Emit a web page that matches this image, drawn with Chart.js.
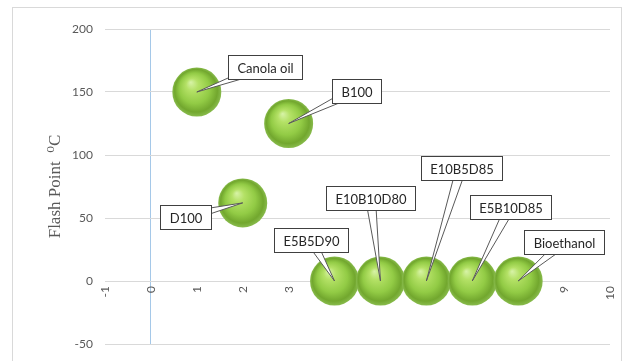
<!DOCTYPE html>
<html>
<head>
<meta charset="utf-8">
<script src="https://cdn.jsdelivr.net/npm/chart.js@4"></script>
<style>
    html, body { margin: 0; padding: 0; background: #fff; }
    #wrap { width: 625px; height: 361px; }
</style>
</head>
<body>
<div id="wrap"><canvas id="flashChart" width="625" height="361"></canvas></div>
<script>
// Fuel blends and their flash points
const fuelNames = ['Canola oil', 'B100', 'D100', 'E5B5D90', 'E10B10D80', 'E10B5D85', 'E5B10D85', 'Bioethanol'];
const fuelIndex = [1, 3, 2, 4, 5, 6, 7, 8];
const flashPoints = [150, 125, 62, 0, 0, 0, 0, 0];

// Y axis ticks
const yMin = -50;
const yMax = 200;
const yStep = 50;

// Callout box placement relative to each bubble (px)
const calloutOffsets = [
    [68, -25], [68, -33], [-57, 14], [-24, -41],
    [-10, -83], [35, -113], [38, -74], [46, -39]
];

const BUBBLE_R = 24.5;
const labelFont = '13px Lato, "Open Sans", sans-serif';

// Shaded sphere fill for each bubble
function sphereFill(ctx) {
    const chart = ctx.chart;
    const raw = ctx.raw;
    if (!raw || !chart.scales.x || !chart.scales.y) return '#8cc63f';
    const x = chart.scales.x.getPixelForValue(raw.x);
    const y = chart.scales.y.getPixelForValue(raw.y);
    if (!isFinite(x) || !isFinite(y)) return '#8cc63f';
    const r = BUBBLE_R;
    const g = chart.ctx.createRadialGradient(x - r * 0.25, y - r * 0.4, 0, x, y, r);
    g.addColorStop(0, '#d8f3a8');
    g.addColorStop(0.25, '#b4e166');
    g.addColorStop(0.62, '#92cb45');
    g.addColorStop(0.87, '#72a72e');
    g.addColorStop(1, '#88bb4c');
    return g;
}

// White page with thin light grey frame
const frame = {
    id: 'frame',
    beforeDraw(chart) {
        const c = chart.ctx;
        c.save();
        c.fillStyle = '#fff';
        c.fillRect(0, 0, chart.width, chart.height);
        c.strokeStyle = '#d9d9d9';
        c.lineWidth = 1;
        c.strokeRect(12.5, 7.5, 609, chart.height + 10);
        c.restore();
    }
};

// Boxed callouts with a wedge pointing at each bubble
const callouts = {
    id: 'callouts',
    afterDraw(chart) {
        const c = chart.ctx;
        const meta = chart.getDatasetMeta(0);
        c.save();
        c.font = labelFont;
        c.lineWidth = 1;
        meta.data.forEach((pt, i) => {
            const [dx, dy] = calloutOffsets[i];
            const bx = pt.x + dx;
            const by = pt.y + dy;
            const text = fuelNames[i];
            const w = Math.round(c.measureText(text).width + 18);
            const h = 24;
            const left = Math.round(bx - w / 2) + 0.5;
            const top = Math.round(by - h / 2) + 0.5;

            // wedge
            const ang = Math.atan2(pt.y - by, pt.x - bx);
            const px = Math.cos(ang + Math.PI / 2) * 5;
            const py = Math.sin(ang + Math.PI / 2) * 5;
            c.beginPath();
            c.moveTo(bx + px, by + py);
            c.lineTo(pt.x, pt.y);
            c.lineTo(bx - px, by - py);
            c.closePath();
            c.fillStyle = '#fff';
            c.fill();
            c.strokeStyle = '#595959';
            c.stroke();

            // box
            c.fillStyle = '#fff';
            c.fillRect(left, top, w, h);
            c.strokeStyle = '#404040';
            c.strokeRect(left, top, w, h);

            c.fillStyle = '#262626';
            c.textAlign = 'center';
            c.textBaseline = 'middle';
            c.fillText(text, left + w / 2, top + h / 2 + 1);
        });
        c.restore();
    }
};

const points = fuelIndex.map((x, i) => ({ x: x, y: flashPoints[i] }));

new Chart(document.getElementById('flashChart'), {
    type: 'bubble',
    data: {
        datasets: [{
            label: 'Flash Point',
            data: points,
            radius: BUBBLE_R,
            hoverRadius: 0,
            borderWidth: 0,
            backgroundColor: sphereFill,
            hoverBackgroundColor: sphereFill
        }]
    },
    options: {
        responsive: false,
        animation: false,
        events: [],
        layout: { autoPadding: false, padding: { left: 0, top: 29, right: 15, bottom: 17 } },
        plugins: {
            legend: { display: false },
            tooltip: { enabled: false }
        },
        scales: {
            x: {
                type: 'linear',
                position: { y: 0 },
                min: -1,
                max: 10,
                z: 1,
                ticks: {
                    stepSize: 1,
                    minRotation: 90,
                    maxRotation: 90,
                    padding: 5,
                    color: '#595959',
                    font: { family: 'Lato, "Open Sans", sans-serif', size: 12 }
                },
                grid: {
                    color: c => (c.tick && c.tick.value === 0 ? '#a5c8e8' : 'rgba(0,0,0,0)'),
                    drawTicks: false
                },
                border: { display: false },
                afterFit(scale) {
                    // axis sits inside the plot, so it should not eat layout space
                    scale.height = 0;
                    scale.paddingLeft = 0;
                    scale.paddingRight = 0;
                    scale.paddingTop = 0;
                    scale.paddingBottom = 0;
                }
            },
            y: {
                min: yMin,
                max: yMax,
                ticks: {
                    stepSize: yStep,
                    padding: 12,
                    color: '#595959',
                    font: { family: 'Lato, "Open Sans", sans-serif', size: 12 }
                },
                grid: { color: '#d9d9d9', drawTicks: false },
                border: { display: false },
                title: {
                    display: true,
                    text: 'Flash Point  \u2070C',
                    color: '#595959',
                    font: { family: '"Liberation Serif", "DejaVu Serif", serif', size: 17 },
                    padding: { top: 45, bottom: 0 }
                },
                afterFit(scale) {
                    scale.width = 105;
                    scale.paddingTop = 0;
                    scale.paddingBottom = 0;
                }
            }
        }
    },
    plugins: [frame, callouts]
});
</script>
</body>
</html>
